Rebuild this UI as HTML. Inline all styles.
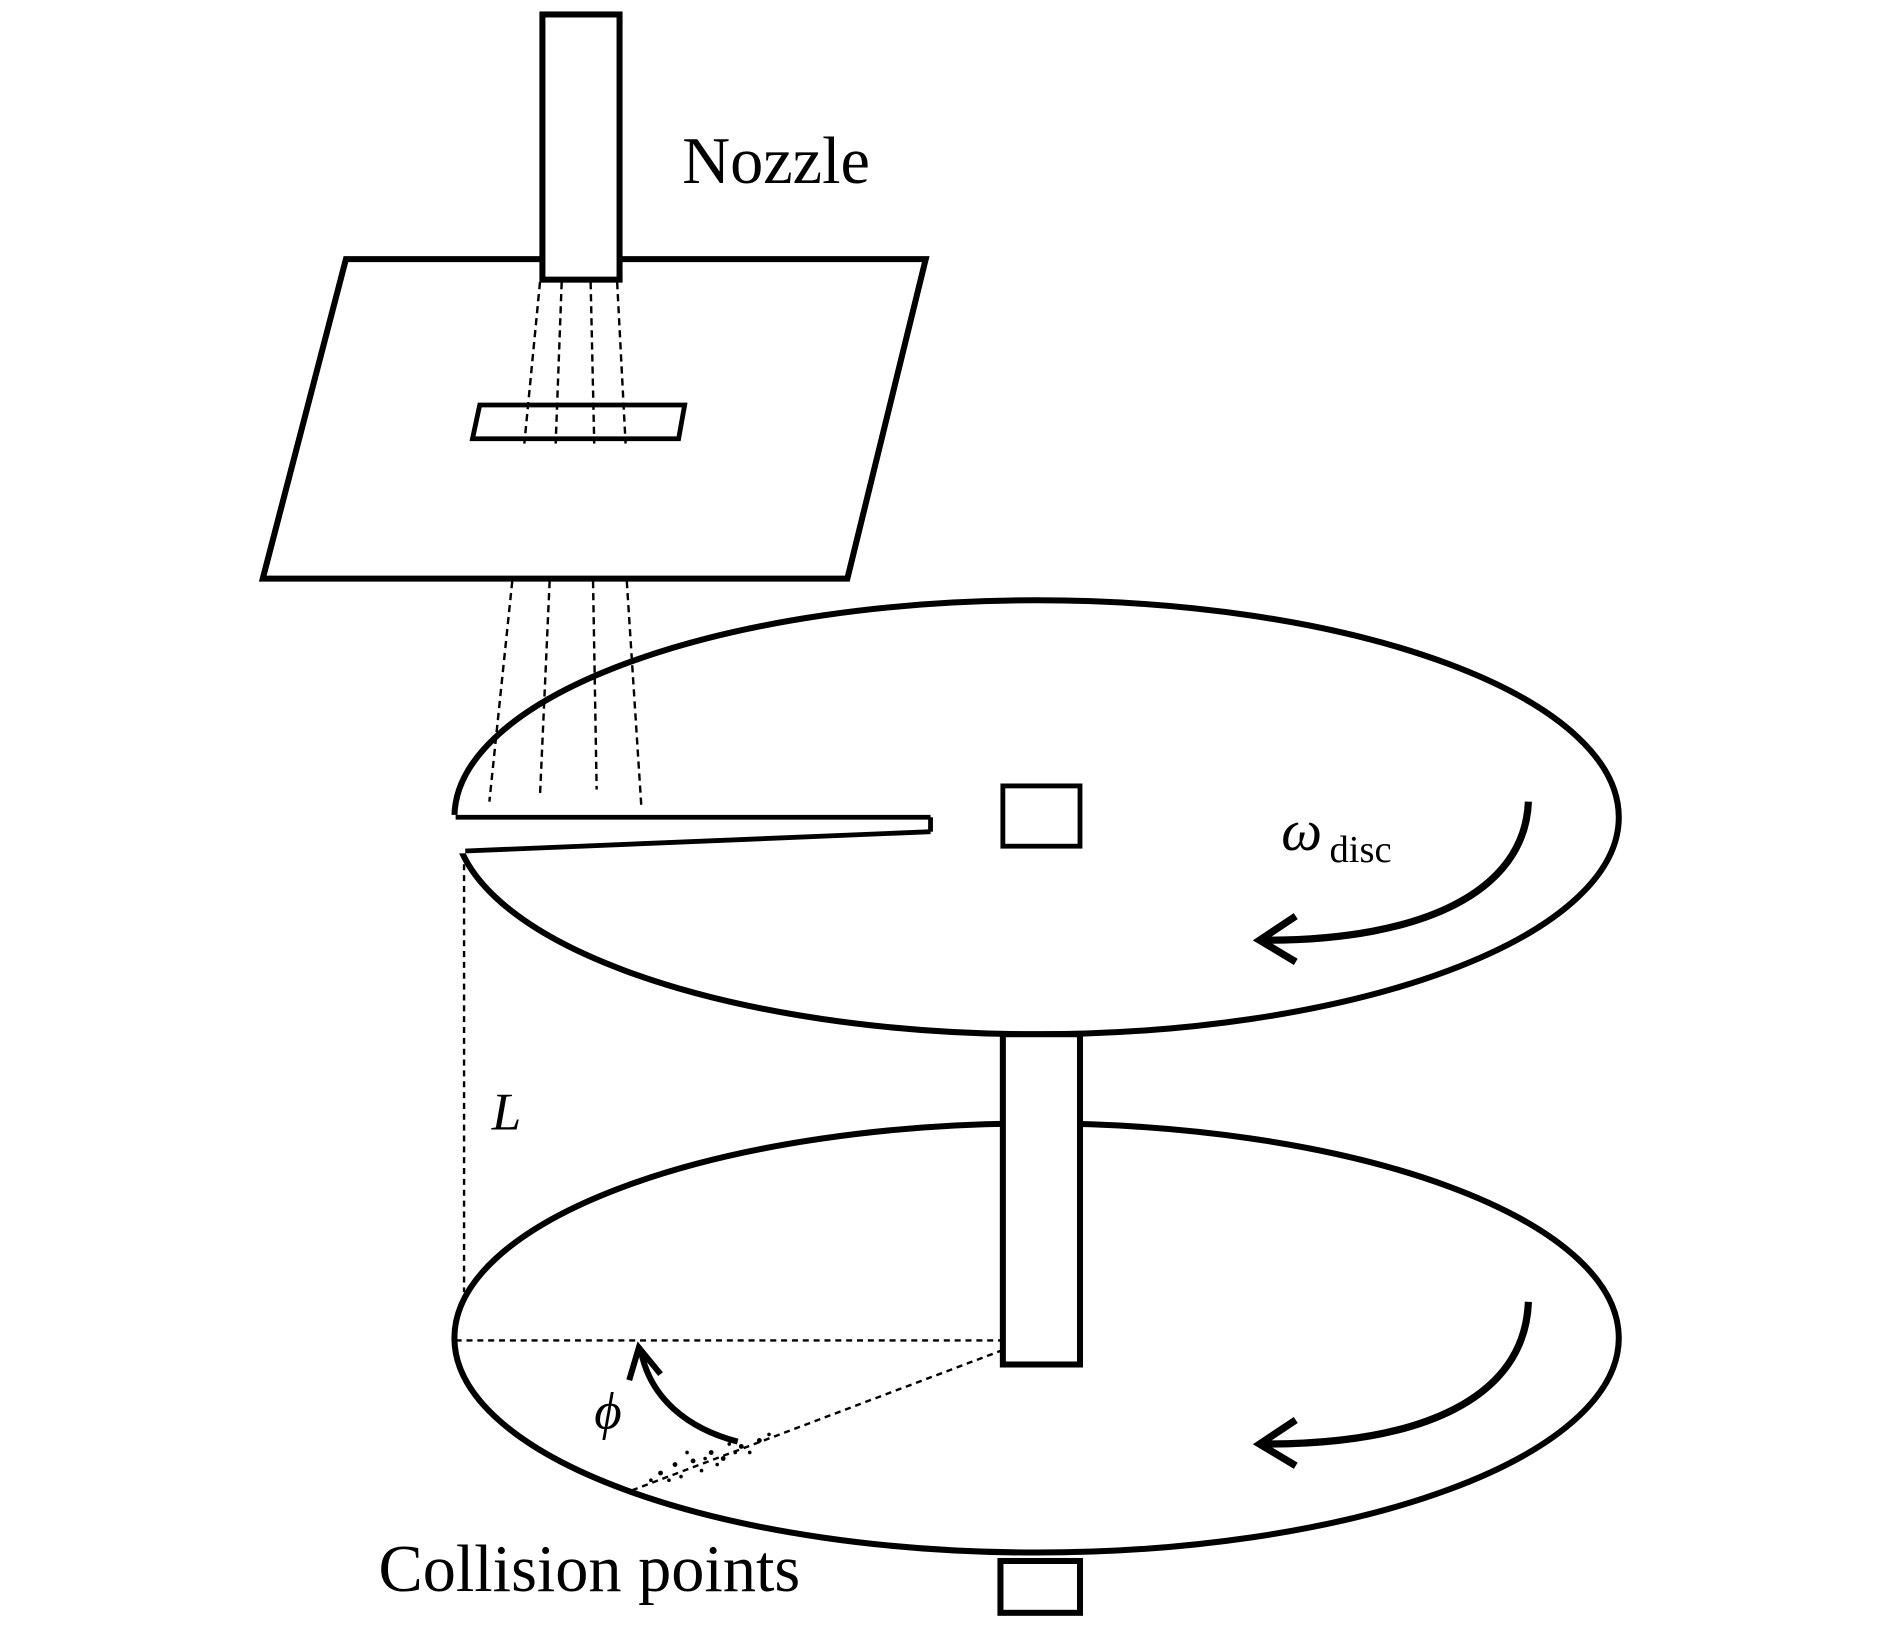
<!DOCTYPE html>
<html><head><style>
html,body{margin:0;padding:0;background:#fff;}
svg{display:block;}
</style></head><body>
<svg width="1890" height="1628" viewBox="0 0 1568 1350.6" preserveAspectRatio="none" xmlns="http://www.w3.org/2000/svg">
<g fill="none" stroke="#000" stroke-width="5">
<polygon points="287,215 768,215 703,480 218,480" fill="#fff"/>
<polygon points="398,336 568,336 563,364 392,364" stroke-width="4"/>
<rect x="450" y="12" width="64" height="220" fill="#fff"/>
</g>
<g stroke="#000" stroke-width="2" stroke-dasharray="6,4" fill="none">
<line x1="448" y1="234" x2="435" y2="368"/>
<line x1="466" y1="234" x2="461" y2="368"/>
<line x1="490" y1="234" x2="493" y2="368"/>
<line x1="512" y1="234" x2="519" y2="368"/>
<line x1="425" y1="482" x2="406" y2="665"/>
<line x1="456" y1="482" x2="448" y2="660"/>
<line x1="492" y1="482" x2="495" y2="655"/>
<line x1="520" y1="482" x2="532" y2="668"/>
</g>
<g fill="none" stroke="#000" stroke-width="5">
<ellipse cx="860" cy="678" rx="483" ry="180"/>
</g>
<polygon points="365,676 774,676 774,691 385,708 365,708" fill="#fff"/>
<g fill="none" stroke="#000" stroke-width="4">
<line x1="378" y1="678" x2="772" y2="678"/>
<line x1="772" y1="678" x2="772" y2="690"/>
<line x1="386" y1="706" x2="772" y2="690"/>
<rect x="832" y="652" width="64" height="50"/>
<ellipse cx="860" cy="1110" rx="483" ry="178" stroke-width="5"/>
<rect x="832" y="858" width="64" height="274" fill="#fff" stroke-width="5"/>
<rect x="830" y="1295" width="66" height="43" fill="#fff" stroke-width="5"/>
<path d="M1268,665 C1265,740 1180,780 1050,780" stroke-width="6"/>
<path d="M1075,760 L1045,780 L1075,798" stroke-width="6"/>
<path d="M1268,1080 C1265,1160 1180,1198 1050,1198" stroke-width="6"/>
<path d="M1075,1178 L1045,1198 L1075,1216" stroke-width="6"/>
<path d="M612,1196 C570,1185 540,1160 532,1122" stroke-width="5"/>
<path d="M522,1145 L530,1118 L548,1140" stroke-width="5"/>
</g>
<g stroke="#000" stroke-width="2" stroke-dasharray="5,4" fill="none">
<line x1="385" y1="708" x2="385" y2="1072"/>
<line x1="378" y1="1112" x2="832" y2="1112"/>
<line x1="832" y1="1120" x2="520" y2="1238"/>
</g>
<g fill="#000">
<circle cx="560" cy="1215" r="2"/><circle cx="575" cy="1212" r="2"/><circle cx="590" cy="1205" r="2"/>
<circle cx="600" cy="1210" r="2"/><circle cx="615" cy="1200" r="2"/><circle cx="630" cy="1195" r="2"/>
<circle cx="548" cy="1222" r="2"/><circle cx="565" cy="1225" r="1.5"/><circle cx="582" cy="1220" r="1.5"/>
<circle cx="605" cy="1198" r="1.5"/><circle cx="622" cy="1205" r="1.5"/><circle cx="540" cy="1228" r="1.5"/>
<circle cx="595" cy="1215" r="1.5"/><circle cx="570" cy="1205" r="1.5"/><circle cx="638" cy="1190" r="1.5"/>
<circle cx="585" cy="1210" r="1.5"/><circle cx="610" cy="1205" r="1.5"/><circle cx="555" cy="1228" r="1.5"/>
</g>
<g font-family="Liberation Serif, serif" fill="#000">
<text x="566" y="152" font-size="55">Nozzle</text>
<text x="1063" y="705" font-size="48" font-style="italic">ω</text>
<text x="1103" y="715" font-size="32">disc</text>
<text x="408" y="937" font-size="44" font-style="italic">L</text>
<text x="493" y="1185" font-size="44" font-style="italic">ϕ</text>
<text x="314" y="1320" font-size="55">Collision points</text>
</g>
</svg>
</body></html>
